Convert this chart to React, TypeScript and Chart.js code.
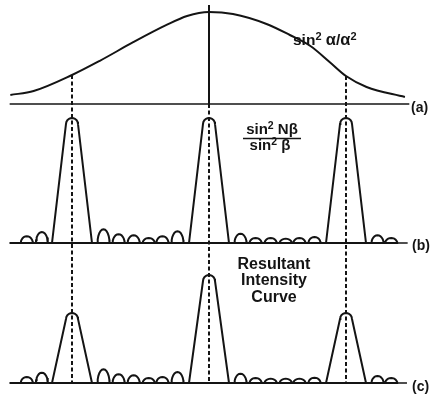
import React, { useEffect, useRef } from "react";
import { Chart, registerables } from "chart.js";

Chart.register(...registerables);

// ---------- data (x in phase units: principal maxima at -10, 0, 10) ----------
// (a) single-slit envelope sin²α/α², normalised to 1
const envelopeX = [-14.5, -12.8, -10, -8.0, -5.5, -3.1, -1.6, 0, 1.75, 4.2, 5.9, 7.4, 8.8, 10, 11.5, 14.3];
const envelopeY = [0.098, 0.141, 0.315, 0.467, 0.674, 0.859, 0.957, 1, 0.978, 0.87, 0.75, 0.63, 0.457, 0.304, 0.185, 0.076];

// principal maxima positions
const orders = [-10, 0, 10];
// (b) sin²Nβ / sin²β : principal maxima (relative height, max = 100)
const gratingPeaks = [100, 100, 100];
// (c) resultant intensity: principal maxima
const resultantPeaks = [56, 86.4, 56];

// secondary maxima
const secondaryX = [-13.3, -12.2, -7.7, -6.6, -5.5, -4.4, -3.4, -2.3, 2.3, 3.4, 4.5, 5.6, 6.6, 7.7, 12.3, 13.3];
const gratingSecondary = [5.4, 8.8, 11, 7, 6.2, 4, 5.4, 9.4, 7.4, 4, 4, 3.4, 4, 4.8, 6.2, 4];
const resultantSecondary = [4.8, 8.2, 11, 7, 6.2, 4, 4.8, 8.8, 7.4, 4, 3.4, 3.4, 3.4, 4.2, 5.6, 4];

// ---------- layout / style ----------
const W = 432;
const H = 394;
const X_MIN = -15.255;
const X_MAX = 16.277;
const PXX = W / (X_MAX - X_MIN);
const A_BASE = 290;
const A_SCALE = 92;
const B_BASE = 151;
const C_BASE = 11;
const BC_SCALE = 1.25;
const AXIS_START = -14.55;
const AXIS_END_A = 14.62;
const AXIS_END_B = 14.5;
const AXIS_END_C = 14.45;
const CENTER_TOP = 389;
const INK = "#141414";
const FONT = "'Liberation Sans', Arial, sans-serif";
const DASH = [4, 2.5];

const PEAK_HALF_BASE = 20; // px
const CAP: [number, number][] = [
  [-6, 6], [-5.6, 3.9], [-4.6, 2.1], [-3, 0.8], [-1.5, 0.2], [0, 0],
  [1.5, 0.2], [3, 0.8], [4.6, 2.1], [5.6, 3.9], [6, 6],
];
const ARCH: [number, number][] = [
  [-6, 0], [-5.8, 0.26], [-5.2, 0.5], [-4.2, 0.71], [-3, 0.87], [-1.55, 0.97], [0, 1],
  [1.55, 0.97], [3, 0.87], [4.2, 0.71], [5.2, 0.5], [5.8, 0.26], [6, 0],
];

function buildTrace(peaks: number[], bumps: number[], base: number, end: number) {
  const items = [
    ...orders.map((x, i) => ({ x, h: peaks[i], peak: true })),
    ...secondaryX.map((x, i) => ({ x, h: bumps[i], peak: false })),
  ].sort((a, b) => a.x - b.x);
  const pts: { x: number; y: number }[] = [{ x: AXIS_START, y: base }];
  for (const it of items) {
    const top = base + it.h * BC_SCALE;
    if (it.peak) {
      pts.push({ x: it.x - PEAK_HALF_BASE / PXX, y: base });
      for (const [dx, dy] of CAP) pts.push({ x: it.x + dx / PXX, y: top - dy });
      pts.push({ x: it.x + PEAK_HALF_BASE / PXX, y: base });
    } else {
      for (const [dx, f] of ARCH) pts.push({ x: it.x + dx / PXX, y: base + f * (top - base) });
    }
  }
  pts.push({ x: end, y: base });
  return pts;
}

function line(data: { x: number; y: number }[], width = 2, dash: number[] = [], smooth = false) {
  return {
    data,
    showLine: true,
    borderColor: INK,
    borderWidth: width,
    borderDash: dash,
    pointRadius: 0,
    tension: smooth ? 0.4 : 0,
    cubicInterpolationMode: smooth ? ("monotone" as const) : ("default" as const),
    fill: false,
    clip: false as const,
  };
}

function drawRich(
  ctx: CanvasRenderingContext2D,
  parts: [string, number, number][],
  x: number,
  y: number,
  center: boolean
) {
  let w = 0;
  for (const [t, s] of parts) {
    ctx.font = `bold ${s}px ${FONT}`;
    w += ctx.measureText(t).width;
  }
  let cx = center ? x - w / 2 : x;
  for (const [t, s, r] of parts) {
    ctx.font = `bold ${s}px ${FONT}`;
    ctx.fillText(t, cx, y - r);
    cx += ctx.measureText(t).width;
  }
}

const textPlugin = {
  id: "diagramText",
  afterDraw(chart: any) {
    const ctx: CanvasRenderingContext2D = chart.ctx;
    ctx.save();
    ctx.fillStyle = INK;
    ctx.strokeStyle = INK;
    ctx.textBaseline = "alphabetic";
    ctx.textAlign = "left";
    // envelope label
    drawRich(ctx, [["sin", 15.5, 0], ["2", 11, 5], [" ", 15.5, 0], ["α", 16.5, 0], ["/", 15.5, 0], ["α", 16.5, 0], ["2", 11, 5]], 293, 45, false);
    // fraction label
    drawRich(ctx, [["sin", 15, 0], ["2", 10.5, 5], [" N", 15, 0], ["β", 15, 0]], 272, 134, true);
    ctx.lineWidth = 1.6;
    ctx.beginPath();
    ctx.moveTo(243, 138.5);
    ctx.lineTo(301, 138.5);
    ctx.stroke();
    drawRich(ctx, [["sin", 15, 0], ["2", 10.5, 5], [" ", 15, 0], ["β", 15, 0]], 270, 149.5, true);
    // resultant label
    ctx.textAlign = "center";
    ctx.font = `bold 16px ${FONT}`;
    ctx.fillText("Resultant", 274, 269);
    ctx.fillText("Intensity", 274, 285);
    ctx.fillText("Curve", 274, 301.5);
    // panel tags
    ctx.textAlign = "left";
    ctx.textBaseline = "middle";
    ctx.font = `bold 14px ${FONT}`;
    ctx.fillText("(a)", 411, 108);
    ctx.fillText("(b)", 412, 246.5);
    ctx.fillText("(c)", 412, 387);
    ctx.restore();
  },
};

export default function App() {
  const ref = useRef<HTMLCanvasElement | null>(null);
  useEffect(() => {
    if (!ref.current) return;
    const env = envelopeX.map((x, i) => ({ x, y: A_BASE + envelopeY[i] * A_SCALE }));
    const leftTop = A_BASE + envelopeY[envelopeX.indexOf(orders[0])] * A_SCALE;
    const rightTop = A_BASE + envelopeY[envelopeX.indexOf(orders[2])] * A_SCALE;
    const datasets = [
      line([{ x: orders[0], y: leftTop }, { x: orders[0], y: C_BASE }], 2, DASH),
      line([{ x: orders[1], y: A_BASE }, { x: orders[1], y: C_BASE }], 2, DASH),
      line([{ x: orders[2], y: rightTop }, { x: orders[2], y: C_BASE }], 2, DASH),
      line(env, 2, [], true),
      line([{ x: AXIS_START, y: A_BASE }, { x: AXIS_END_A, y: A_BASE }], 1.7),
      line([{ x: orders[1], y: A_BASE }, { x: orders[1], y: CENTER_TOP }], 2),
      line([{ x: AXIS_START, y: B_BASE }, { x: AXIS_END_B, y: B_BASE }], 1.7),
      line([{ x: AXIS_START, y: C_BASE }, { x: AXIS_END_C, y: C_BASE }], 1.7),
      line(buildTrace(gratingPeaks, gratingSecondary, B_BASE, AXIS_START), 2),
      line(buildTrace(resultantPeaks, resultantSecondary, C_BASE, AXIS_START), 2),
    ];
    const chart = new Chart(ref.current, {
      type: "scatter",
      data: { datasets: datasets as any },
      options: {
        animation: false,
        responsive: false,
        maintainAspectRatio: false,
        layout: { padding: 0 },
        plugins: { legend: { display: false }, tooltip: { enabled: false } },
        scales: {
          x: { type: "linear", min: X_MIN, max: X_MAX, display: false },
          y: { type: "linear", min: 0, max: H, display: false },
        },
      },
      plugins: [textPlugin],
    });
    return () => chart.destroy();
  }, []);
  return (
    <div style={{ position: "absolute", left: 0, top: 0, width: W, height: H, background: "#fff" }}>
      <canvas ref={ref} width={W} height={H} style={{ display: "block" }} />
    </div>
  );
}
